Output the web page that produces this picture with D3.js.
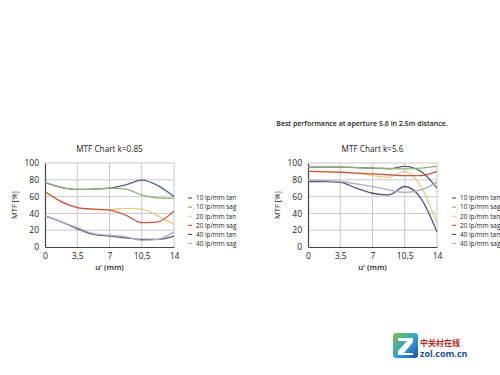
<!DOCTYPE html>
<html lang="en">
<head>
  <meta http-equiv="Content-Type" content="text/html; charset=utf-8">
  <title>MTF Charts</title>
  <style type="text/css">
    body { margin: 0; background: #fff; }
    svg  { display: block; }
    text { font-family: "Open Sans", "Liberation Sans", sans-serif; fill: #222; }
  </style>
</head>
<body>
<script src="https://d3js.org/d3.v7.min.js"></script>
<script>
  //----------------------------------------------------------------------------
  var positions = [0, 1.75, 3.5, 5.25, 7, 8.75, 10.5, 12.25, 14];
  var xTicks = [0, 3.5, 7, 10.5, 14];
  var yTicks = [0, 20, 40, 60, 80, 100];
  var seriesNames = ["10 lp/mm tan", "10 lp/mm sag", "20 lp/mm tan",
                     "20 lp/mm sag", "40 lp/mm tan", "40 lp/mm sag"];
  var colors = ["#50657c", "#8fae73", "#eac883", "#c45a45", "#58527c", "#b4acc2"];

  // k = 0.85
  var left10tan = [77, 71, 68.5, 69, 70, 74, 79.5, 73, 60];
  var left10sag = [77, 71, 68.5, 69, 70, 69, 62, 58.5, 58];
  var left20tan = [66, 54, 47, 45, 44.5, 46, 45, 37, 27];
  var left20sag = [66, 54, 47, 45, 44, 38, 29, 30, 43];
  var left40tan = [37, 30, 22, 15, 13, 11, 9, 9, 13];
  var left40sag = [37, 30, 23, 16, 14, 12, 8, 9, 18];

  // k = 5.6
  var right10tan = [95, 95, 95, 94.5, 94, 93, 96, 90, 70];
  var right10sag = [95, 95, 95, 94.5, 94, 93.5, 93, 94, 96];
  var right20tan = [90, 90, 89, 88, 85, 83, 90, 72, 28];
  var right20sag = [90, 89.5, 89, 88, 87, 86, 85, 85, 90];
  var right40tan = [78, 78, 77, 70, 64, 62, 72, 58, 18];
  var right40sag = [79.5, 79, 78, 75, 72, 68, 65, 68, 77];

  var width = 500, height = 375;

  var svg = d3.select("body").append("svg")
      .attr("width", width)
      .attr("height", height);

  svg.append("text")
      .attr("x", 362).attr("y", 126)
      .attr("text-anchor", "middle")
      .style("font-size", "7px")
      .style("font-weight", "600")
      .text("Best performance at aperture 5.6 in 2.5m distance.");

  function drawChart(x0, x1, title, seriesData, legendX) {
    var x = d3.scaleLinear().domain([0, 14]).range([x0, x1]);
    var y = d3.scaleLinear().domain([0, 100]).range([247, 163]);
    var g = svg.append("g");

    // grid
    g.selectAll(".vg").data(xTicks.slice(1)).enter().append("line")
      .attr("x1", function(d) { return x(d); }).attr("x2", function(d) { return x(d); })
      .attr("y1", y(0)).attr("y2", y(100))
      .attr("stroke", "#c9c9c9").attr("stroke-width", 1);
    g.selectAll(".hg").data(yTicks.slice(1)).enter().append("line")
      .attr("x1", x(0)).attr("x2", x(14))
      .attr("y1", function(d) { return y(d); }).attr("y2", function(d) { return y(d); })
      .attr("stroke", "#c9c9c9").attr("stroke-width", 1);

    // axes
    var xAxis = g.append("g").attr("transform", "translate(0," + y(0) + ")")
      .call(d3.axisBottom(x).tickValues(xTicks).tickSize(0).tickPadding(6)
        .tickFormat(function(d) { return String(d).replace(".", ","); }));
    var yAxis = g.append("g").attr("transform", "translate(" + x(0) + ",0)")
      .call(d3.axisLeft(y).tickValues(yTicks).tickSize(0).tickPadding(6));
    [xAxis, yAxis].forEach(function(a) {
      a.select(".domain").attr("stroke", "#444").attr("stroke-width", 1.2);
      a.selectAll("text").style("font-size", "8.5px").style("font-family", "\"Open Sans\", sans-serif").attr("fill", "#222");
    });

    g.append("text")
      .attr("x", (x0 + x1) / 2).attr("y", 152)
      .attr("text-anchor", "middle")
      .style("font-size", "8.2px")
      .text(title);
    g.append("text")
      .attr("x", (x0 + x1) / 2).attr("y", 270)
      .attr("text-anchor", "middle")
      .style("font-size", "7.8px")
      .style("font-weight", "600")
      .text("u' (mm)");
    g.append("text")
      .attr("transform", "translate(" + (x0 - 28) + ",205) rotate(-90)")
      .attr("text-anchor", "middle")
      .style("font-size", "7.6px")
      .text("MTF [%]");

    var line = d3.line()
      .x(function(d, i) { return x(positions[i]); })
      .y(function(d) { return y(d); })
      .curve(d3.curveMonotoneX);

    g.selectAll(".series").data(seriesData).enter().append("path")
      .attr("d", function(d) { return line(d); })
      .attr("fill", "none")
      .attr("stroke", function(d, i) { return colors[i]; })
      .attr("stroke-width", 1.3);

    // legend
    var lg = g.selectAll(".leg").data(seriesNames).enter().append("g")
      .attr("transform", function(d, i) { return "translate(" + legendX + "," + (198 + i * 9.1) + ")"; });
    lg.append("line")
      .attr("x1", 0).attr("x2", 4)
      .attr("stroke", function(d, i) { return colors[i]; })
      .attr("stroke-width", 1.2);
    lg.append("text")
      .attr("x", 8).attr("y", 2.3)
      .style("font-size", "6.4px")
      .text(function(d) { return d; });
  }

  drawChart(45, 174, "MTF Chart k=0.85",
    [left10tan, left10sag, left20tan, left20sag, left40tan, left40sag], 188);
  drawChart(308, 437, "MTF Chart k=5.6",
    [right10tan, right10sag, right20tan, right20sag, right40tan, right40sag], 452);

  // watermark
  var wm = svg.append("g").attr("transform", "translate(393,333)");
  var grad = svg.append("defs").append("linearGradient")
      .attr("id", "zg").attr("x1", 0).attr("y1", 0).attr("x2", 1).attr("y2", 1);
  grad.append("stop").attr("offset", "0%").attr("stop-color", "#7cc243");
  grad.append("stop").attr("offset", "55%").attr("stop-color", "#2f9fd8");
  grad.append("stop").attr("offset", "100%").attr("stop-color", "#1c4fa8");
  wm.append("rect").attr("width", 25).attr("height", 25).attr("rx", 3).attr("fill", "url(#zg)");
  wm.append("path")
    .attr("d", "M5,5 H20 V9 L11,20 H20 V22 H5 V18 L14,8 H5 Z")
    .attr("fill", "#fff");
  svg.append("text")
    .attr("x", 420).attr("y", 346)
    .style("font-family", "\"Noto Sans CJK SC\", sans-serif")
    .style("font-size", "8px").style("font-weight", "700")
    .style("fill", "#b8281e")
    .text("中关村在线");
  svg.append("text")
    .attr("x", 420).attr("y", 357)
    .style("font-size", "9px").style("font-weight", "700")
    .style("fill", "#1e4fa0")
    .text("zol.com.cn");

  //----------------------------------------------------------------------------
</script>
</body>
</html>
